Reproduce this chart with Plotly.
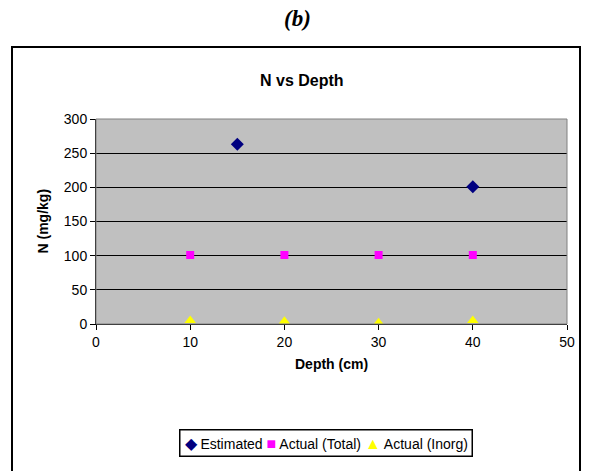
import plotly.graph_objects as go

est_x = [15, 40]
est_y = [263, 201]
tot_x = [10, 20, 30, 40]
tot_y = [101, 101, 101, 101]
ino_x = [10, 20, 30, 40]
ino_y = [5, 4, 2, 5]

W, H = 590, 471
L, R, T, B = 96, 23, 119, 147
pw, ph = W - L - R, H - T - B

def px(pix):
    return (pix - L) / pw

def py(pix):
    return (H - B - pix) / ph

fig = go.Figure()
fig.add_trace(go.Scatter(x=est_x, y=est_y, mode="markers", name="Estimated",
                         marker=dict(symbol="diamond", color="#000080", size=10)))
fig.add_trace(go.Scatter(x=tot_x, y=tot_y, mode="markers", name="Actual (Total)",
                         marker=dict(symbol="square", color="#FF00FF", size=8)))
fig.add_trace(go.Scatter(x=ino_x, y=ino_y, mode="markers", name="Actual (Inorg)",
                         marker=dict(symbol="triangle-up", color="#FFFF00", size=10)))

font = "Liberation Sans, Arial, sans-serif"
legend_text = ("<span style='color:#000080;font-size:16px'>◆</span> Estimated "
               "<span style='color:#FF00FF;font-size:16px'>■</span> Actual (Total) "
               "<span style='color:#FFFF00;font-size:16px'>▲</span> Actual (Inorg)")

fig.update_layout(
    width=W, height=H,
    margin=dict(l=L, r=R, t=T, b=B),
    paper_bgcolor="white", plot_bgcolor="#C0C0C0",
    font=dict(family=font, size=14, color="black"),
    showlegend=False,
    xaxis=dict(range=[0, 50], tickvals=[0, 10, 20, 30, 40, 50], showgrid=False,
               zeroline=False, showline=True, linecolor="black", linewidth=1,
               ticks="outside", ticklen=5, tickcolor="black",
               tickfont=dict(size=14)),
    yaxis=dict(range=[0, 300], tickvals=[0, 50, 100, 150, 200, 250, 300],
               showgrid=True, gridcolor="black", gridwidth=1, zeroline=False,
               showline=True, linecolor="black", linewidth=1,
               ticks="outside", ticklen=5, tickcolor="black",
               tickfont=dict(size=14)),
    annotations=[
        dict(text="<b><i>(b)</i></b>", x=px(297), y=py(18), xref="paper", yref="paper",
             showarrow=False,
             font=dict(family="Liberation Serif, Times New Roman, serif", size=23),
             xanchor="center", yanchor="middle"),
        dict(text="<b>N vs Depth</b>", xref="paper", yref="paper", x=px(302), y=py(80),
             showarrow=False, font=dict(size=16), xanchor="center", yanchor="middle"),
        dict(text="<b>Depth (cm)</b>", xref="paper", yref="paper", x=0.5, y=py(364),
             showarrow=False, font=dict(size=14), xanchor="center", yanchor="middle"),
        dict(text="<b>N (mg/kg)</b>", xref="paper", yref="paper", x=px(42), y=0.5,
             showarrow=False, font=dict(size=14), textangle=-90,
             xanchor="center", yanchor="middle"),
        dict(text=legend_text, xref="paper", yref="paper", x=px(326), y=py(443),
             showarrow=False, font=dict(size=14), xanchor="center", yanchor="middle",
             bordercolor="black", borderwidth=1.5, borderpad=4, bgcolor="white"),
    ],
    shapes=[
        dict(type="rect", xref="paper", yref="paper", x0=0, x1=1, y0=0, y1=1,
             line=dict(color="#808080", width=1), layer="above"),
        dict(type="rect", xref="paper", yref="paper", x0=px(12), x1=px(580),
             y0=py(472), y1=py(47), line=dict(color="black", width=2), layer="below"),
    ],
)
fig.write_html("out.html")
